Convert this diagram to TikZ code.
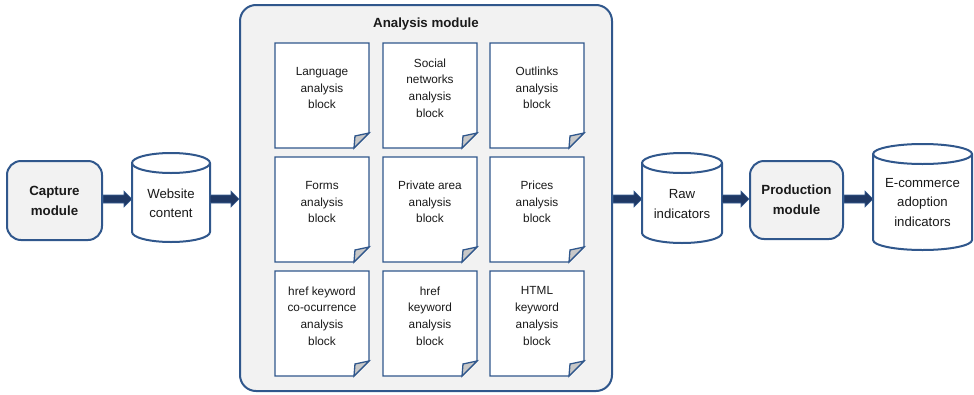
\documentclass[tikz,border=0pt]{standalone}
\usepackage{fontspec}
\setmainfont{Liberation Sans}
\usetikzlibrary{calc}

\definecolor{edgeblue}{HTML}{30578C}
\definecolor{modfill}{HTML}{F2F2F2}
\definecolor{foldfill}{HTML}{C8C8C8}
\definecolor{arrowfill}{HTML}{1F3864}
\definecolor{arrowedge}{HTML}{3A6096}
\definecolor{ink}{HTML}{1A1A1A}

\tikzset{
  module/.style={draw=edgeblue, fill=modfill, line width=2pt, rounded corners=14pt,
    inner sep=0pt, text=ink, align=center, font=\bfseries\fontsize{13.3}{20}\selectfont},
  titletext/.style={inner sep=0pt, text=ink, font=\bfseries\fontsize{13.3}{20}\selectfont},
  storetext/.style={inner sep=0pt, text=ink, align=center, font=\fontsize{13.2}{19.5}\selectfont},
  blocktext/.style={inner sep=0pt, text=ink, align=center, font=\fontsize{11.8}{16.7}\selectfont},
  blockframe/.style={inner sep=0pt, outer sep=0pt, minimum width=94pt, minimum height=105pt},
  blockline/.style={draw=edgeblue, line width=1.3pt, line join=miter},
  storeline/.style={draw=edgeblue, line width=2pt},
  flowarrow/.style={fill=arrowfill, draw=arrowedge, line width=0.6pt, line join=miter},
}

% document-shaped analysis block with a folded lower right corner
% #1 name, #2 left x, #3 top y, #4 text
\newcommand\docblock[4]{%
  \node[blockframe, anchor=north west] (#1) at (#2,#3) {};
  \draw[blockline, fill=white] (#1.north west) -- (#1.north east)
    -- ([yshift=15pt]#1.south east) -- ([xshift=-15pt]#1.south east)
    -- (#1.south west) -- cycle;
  \draw[blockline, fill=foldfill] ([xshift=-15pt]#1.south east)
    -- ([yshift=15pt]#1.south east) -- ([xshift=-14pt,yshift=12pt]#1.south east) -- cycle;
  \node[blocktext] (#1-t) at ([yshift=-45pt]#1.north) {#4};
}

% data store drawn as an upright cylinder
% #1 name, #2 centre x, #3 centre y, #4 width, #5 height, #6 text y, #7 text
\newcommand\datastore[7]{%
  \node[inner sep=0pt, outer sep=0pt, minimum width=#4pt, minimum height=#5pt] (#1) at (#2,#3) {};
  \draw[storeline, fill=white] ([yshift=-10pt]#1.north west) -- ([yshift=10pt]#1.south west)
    arc[start angle=180, end angle=360, x radius={#4*0.5pt}, y radius=10pt]
    -- ([yshift=-10pt]#1.north east)
    arc[start angle=0, end angle=180, x radius={#4*0.5pt}, y radius=10pt] -- cycle;
  \draw[storeline] ([yshift=-10pt]#1.north west)
    arc[start angle=180, end angle=360, x radius={#4*0.5pt}, y radius=10pt];
  \node[storetext] (#1-t) at (#2,#6) {#7};
}

% thick block arrow between two nodes along the flow axis
\newcommand\flow[2]{%
  \filldraw[flowarrow] let \p1=(#1.east |- axis), \p2=(#2.west |- axis) in
    (\x1,\y1+4pt) -- (\x2-8pt,\y1+4pt) -- (\x2-8pt,\y1+8pt) -- (\x2,\y1)
    -- (\x2-8pt,\y1-8pt) -- (\x2-8pt,\y1-4pt) -- (\x1,\y1-4pt) -- cycle;
}

\begin{document}
\begin{tikzpicture}[x=1pt, y=-1pt]
  \useasboundingbox (0,0) rectangle (974,394);
  \coordinate (axis) at (0,199);

  % capture stage
  \node[module, minimum width=95pt, minimum height=79pt] (cap) at (54.5,200.5) {Capture\\module};
  \datastore{web}{171}{197.5}{78}{89}{203.5}{Website\\content}

  % analysis module with its nine blocks
  \node[module, rounded corners=16pt, minimum width=372pt, minimum height=386pt] (ana) at (426,198) {};
  \node[titletext] (ana-t) at (426,24) {Analysis module};

  \docblock{lang}{275}{43}{Language\\analysis\\block}
  \docblock{soc}{383}{43}{Social\\networks\\analysis\\block}
  \docblock{out}{490}{43}{Outlinks\\analysis\\block}
  \docblock{form}{275}{157}{Forms\\analysis\\block}
  \docblock{priv}{383}{157}{Private area\\analysis\\block}
  \docblock{price}{490}{157}{Prices\\analysis\\block}
  \docblock{cooc}{275}{271}{href keyword\\co-ocurrence\\analysis\\block}
  \docblock{href}{383}{271}{href\\keyword\\analysis\\block}
  \docblock{html}{490}{271}{HTML\\keyword\\analysis\\block}

  % production stage
  \datastore{raw}{682}{198}{80}{90}{204}{Raw\\indicators}
  \node[module, minimum width=93pt, minimum height=78pt] (prod) at (796.5,200) {Production\\module};
  \datastore{ecom}{922.5}{197}{99}{106}{202.5}{E-commerce\\adoption\\indicators}

  % flow between stages
  \flow{cap}{web}
  \flow{web}{ana}
  \flow{ana}{raw}
  \flow{raw}{prod}
  \flow{prod}{ecom}
\end{tikzpicture}
\end{document}
